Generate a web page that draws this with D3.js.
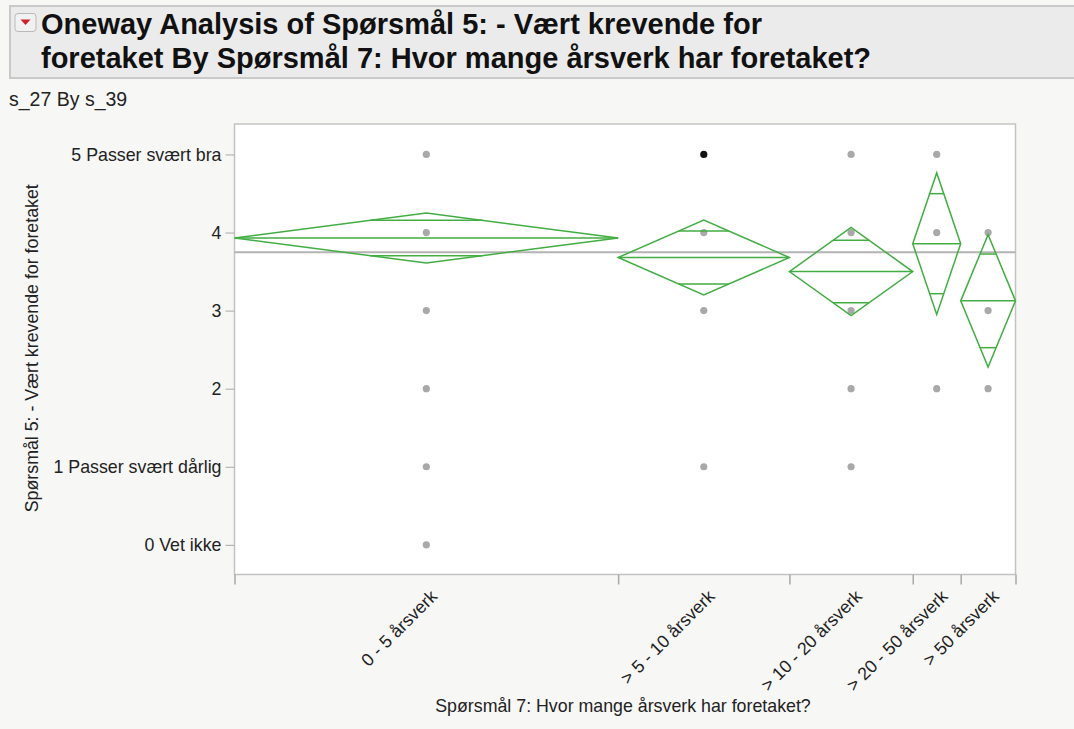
<!DOCTYPE html>
<html>
<head>
<meta charset="utf-8">
<script src="https://cdn.jsdelivr.net/npm/d3@7"></script>
<style>
  html, body { margin: 0; padding: 0; background: #f7f7f6; }
  svg { display: block; font-family: "Liberation Sans", Arial, Helvetica, sans-serif; }
</style>
</head>
<body>
<svg id="chart" width="1074" height="729"></svg>
<script>
// Groups (x) with their sizes, means and 95% CI half-widths
const groups = ["0 - 5 årsverk", "> 5 - 10 årsverk", "> 10 - 20 årsverk", "> 20 - 50 årsverk", "> 50 årsverk"];
const groupN = [56, 25, 18, 7, 8];
const groupMean = [3.93, 3.68, 3.50, 3.857, 3.125];
const ciHalf = [0.32, 0.48, 0.565, 0.906, 0.848];
const grandMean = 3.746;

// Responses present in each group (y values of the dots)
const responses = [
  [5, 4, 3, 2, 1, 0],
  [5, 4, 3, 1],
  [5, 4, 3, 2, 1],
  [5, 4, 2],
  [4, 3, 2]
];
// Selected row: group index and value
const selectedPoint = [1, 5];

const yTickValues = [0, 1, 2, 3, 4, 5];
const yTickLabels = ["0 Vet ikke", "1 Passer svært dårlig", "2", "3", "4", "5 Passer svært bra"];

const titleLines = [
  "Oneway Analysis of Spørsmål 5: - Vært krevende for",
  "foretaket By Spørsmål 7: Hvor mange årsverk har foretaket?"
];
const subTitle = "s_27 By s_39";
const yTitle = "Spørsmål 5: - Vært krevende for foretaket";
const xTitle = "Spørsmål 7: Hvor mange årsverk har foretaket?";

const svg = d3.select("#chart");
const green = "#42ad42";
const axisFont = 17.8;

// ---- Header panel ----
svg.append("rect").attr("x", 10).attr("y", 6).attr("width", 1070).attr("height", 72)
  .attr("fill", "#ebebeb").attr("stroke", "#c9c9c9").attr("stroke-width", 2);
svg.append("rect").attr("x", 15).attr("y", 13.5).attr("width", 21).attr("height", 18).attr("rx", 3)
  .attr("fill", "#f1f1f1").attr("stroke", "#b9b9b9");
svg.append("path").attr("d", "M20.5,19.5 L30.5,19.5 L25.5,25 Z").attr("fill", "#d0202a");
svg.selectAll("text.title").data(titleLines).join("text")
  .attr("class", "title")
  .attr("x", 41).attr("y", (d, i) => 34 + i * 34)
  .attr("font-size", 29).attr("font-weight", "bold").attr("fill", "#111")
  .text(d => d);
svg.append("text").attr("x", 9).attr("y", 106).attr("font-size", 19.5).attr("fill", "#222").text(subTitle);

// ---- Plot frame and scales ----
const plotLeft = 234.5, plotRight = 1015.5, plotTop = 124, plotBottom = 574.5;
const totalN = d3.sum(groupN);
const x = d3.scaleLinear().domain([0, totalN]).range([plotLeft, plotRight]);
const y = d3.scaleLinear().domain([-0.38, 5.39]).range([plotBottom, plotTop]);

const cum = d3.cumsum(groupN);
const starts = groupN.map((n, i) => (i === 0 ? 0 : cum[i - 1]));
const boundaries = [0, ...cum];

svg.append("rect").attr("x", plotLeft).attr("y", plotTop)
  .attr("width", plotRight - plotLeft).attr("height", plotBottom - plotTop)
  .attr("fill", "#fff").attr("stroke", "#c3c3c3").attr("stroke-width", 1.5);

// Y axis
const yAxis = svg.append("g").attr("transform", `translate(${plotLeft},0)`)
  .call(d3.axisLeft(y).tickValues(yTickValues).tickSize(9).tickPadding(4)
    .tickFormat((d, i) => yTickLabels[i]));
yAxis.select(".domain").remove();
yAxis.selectAll(".tick line").attr("stroke", "#a8a8a8");
yAxis.selectAll(".tick text").attr("font-size", axisFont).attr("fill", "#222")
  .attr("font-family", "'Liberation Sans', Arial, sans-serif");

// X axis: tick marks at group boundaries
const xAxis = svg.append("g").attr("transform", `translate(0,${plotBottom})`)
  .call(d3.axisBottom(x).tickValues(boundaries).tickSize(10).tickFormat(""));
xAxis.select(".domain").remove();
xAxis.selectAll(".tick line").attr("stroke", "#a8a8a8").attr("stroke-width", 1.5);

// X category labels, rotated
const centers = groupN.map((n, i) => x(starts[i] + n / 2));
svg.selectAll("text.xlab").data(groups).join("text")
  .attr("class", "xlab")
  .attr("transform", (d, i) => `translate(${centers[i] + 12},${plotBottom + 23}) rotate(-45)`)
  .attr("text-anchor", "end").attr("font-size", axisFont).attr("fill", "#222")
  .text(d => d);

// Axis titles
svg.append("text").attr("transform", `translate(38,${(plotTop + plotBottom) / 2 - 1}) rotate(-90)`)
  .attr("text-anchor", "middle").attr("font-size", axisFont).attr("fill", "#222").text(yTitle);
svg.append("text").attr("x", 623).attr("y", 712).attr("text-anchor", "middle")
  .attr("font-size", axisFont).attr("fill", "#222").text(xTitle);

// Grand mean line
svg.append("line").attr("x1", plotLeft).attr("x2", plotRight)
  .attr("y1", y(grandMean)).attr("y2", y(grandMean))
  .attr("stroke", "#b3b3b3").attr("stroke-width", 2);

// Dots
const dots = [];
responses.forEach((vals, i) => vals.forEach(v => dots.push({ g: i, v })));
svg.selectAll("circle.pt").data(dots).join("circle")
  .attr("class", "pt")
  .attr("cx", d => centers[d.g]).attr("cy", d => y(d.v)).attr("r", 3.6)
  .attr("fill", d => (d.g === selectedPoint[0] && d.v === selectedPoint[1]) ? "#111" : "#a9a9a9");

// Means diamonds with overlap marks
const diamonds = svg.append("g").attr("fill", "none").attr("stroke", green).attr("stroke-width", 1.5);
groups.forEach((g, i) => {
  const x0 = x(starts[i]), x1 = x(starts[i] + groupN[i]), cx = centers[i];
  const m = groupMean[i], h = ciHalf[i];
  diamonds.append("path")
    .attr("d", `M${x0},${y(m)} L${cx},${y(m + h)} L${x1},${y(m)} L${cx},${y(m - h)} Z`);
  diamonds.append("line").attr("x1", x0).attr("x2", x1).attr("y1", y(m)).attr("y2", y(m));
  const hw = (x1 - x0) / 2 * (1 - Math.SQRT1_2);
  [m + h * Math.SQRT1_2, m - h * Math.SQRT1_2].forEach(v => {
    diamonds.append("line").attr("x1", cx - hw).attr("x2", cx + hw).attr("y1", y(v)).attr("y2", y(v));
  });
});
</script>
</body>
</html>
